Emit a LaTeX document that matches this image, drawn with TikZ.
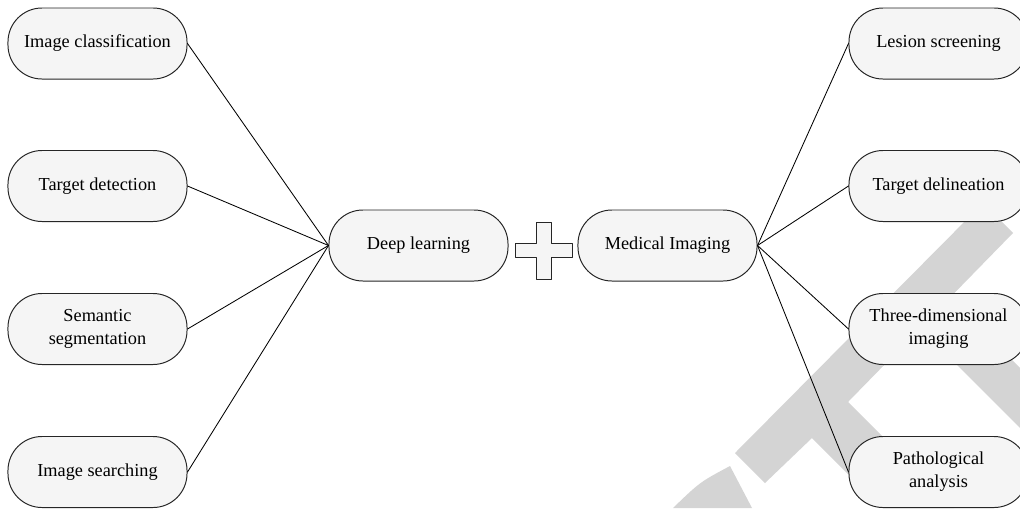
\documentclass[tikz,border=0pt]{standalone}
\usepackage{fontspec}
\setmainfont{Liberation Serif}
\usepackage{tikz}
\usetikzlibrary{calc,positioning}
\definecolor{boxfill}{RGB}{245,245,245}
\definecolor{markgray}{RGB}{212,212,212}
\tikzset{box/.style={draw=black!85,fill=boxfill,line width=0.7pt,rounded corners=0.85cm,minimum width=4.475cm,minimum height=1.775cm,inner sep=0pt,align=center,font=\fontsize{13}{16.3}\selectfont}}

\begin{document}
\begin{tikzpicture}[x=0.025cm,y=-0.025cm,line join=round,line cap=round]
		\useasboundingbox (0,0) rectangle (1020,508);
		\clip (0,0) rectangle (1020,508);
		% grey mark behind the boxes
		\fill[markgray] (735,453)--(765,483)--(812,438)--(882,508)--(954,508)--(848,402)--(1013,233)--(983,203)--cycle;
		\fill[markgray] (900,308)--(1020,428)--(1020,368)--(960,308)--cycle;
		\fill[markgray] (673,508) .. controls (700,482) .. (730,466)--(752,508)--cycle;
		\node[box] (cls) at (97.5,43.5) {Image classification};
		\node[box] (det) at (97.5,186) {Target detection};
		\node[box] (seg) at (97.5,329) {Semantic\\segmentation};
		\node[box] (srch) at (97.5,472) {Image searching};
		\node[box] (deep) at (418.5,245.5) {Deep learning};
		\node[box] (med) at (667.5,245.5) {Medical Imaging};
		\node[box] (les) at (938.5,43.5) {Lesion screening};
		\node[box] (dln) at (938.5,186) {Target delineation};
		\node[box] (thr) at (938.5,329) {Three-dimensional\\imaging};
		\node[box] (pat) at (938.5,472) {Pathological\\analysis};
		\draw[fill=boxfill,line width=0.7pt,draw=black!85] (536,222)--(551,222)--(551,243)--(572,243)--(572,257)--(551,257)--(551,279)--(536,279)--(536,257)--(515,257)--(515,243)--(536,243)--cycle;
		\foreach \n in {cls,det,seg,srch}{\draw[line width=0.6pt](\n.east)--(deep.west);}
		\foreach \n in {les,dln,thr,pat}{\draw[line width=0.6pt](med.east)--(\n.west);}
		\end{tikzpicture}
\end{document}
